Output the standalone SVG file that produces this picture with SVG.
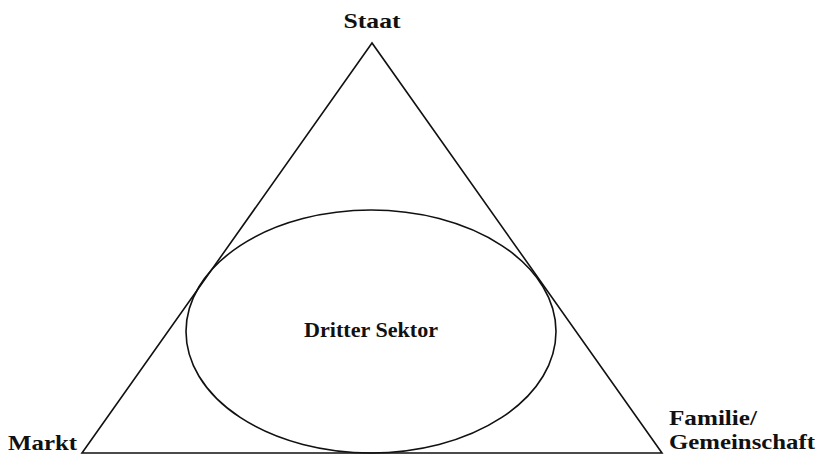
<svg xmlns="http://www.w3.org/2000/svg" width="820" height="457" viewBox="0 0 820 457">
<style>
.l{font-family:"Liberation Serif","Times New Roman",serif;font-weight:bold;font-size:22px;fill:#111}
.s{fill:none;stroke:#111;stroke-width:1.6}
</style>
<rect width="820" height="457" fill="#fff"/>
<g id="connectors">
<polygon id="triangle" class="s" points="372,43 82,453 662,453"/>
</g>
<g id="staat"><text class="l" x="372" y="28" text-anchor="middle" textLength="57" lengthAdjust="spacingAndGlyphs">Staat</text></g>
<g id="markt"><text class="l" x="8" y="450" textLength="69" lengthAdjust="spacingAndGlyphs">Markt</text></g>
<g id="familie"><text class="l" x="669" y="425" textLength="88" lengthAdjust="spacingAndGlyphs">Familie/</text><text class="l" x="669" y="449" textLength="146" lengthAdjust="spacingAndGlyphs">Gemeinschaft</text></g>
<g id="dritter"><ellipse class="s" cx="371" cy="331.5" rx="185" ry="121.5"/><text class="l" x="371" y="337" text-anchor="middle" textLength="134" lengthAdjust="spacingAndGlyphs">Dritter Sektor</text></g>
</svg>
